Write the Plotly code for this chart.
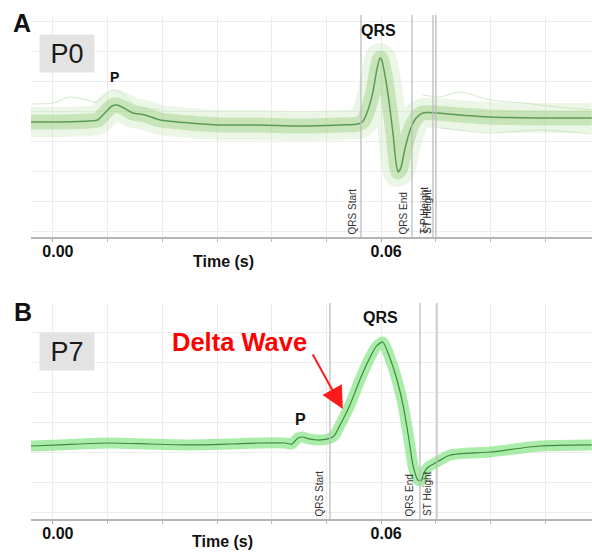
import plotly.graph_objects as go

# ---------------- data (time in s, amplitude in mV) ----------------
t_a = [-0.0040, 0.0013, 0.0068, 0.0082, 0.0095, 0.0108, 0.0117, 0.0130, 0.0146,
       0.0168, 0.0196, 0.0250, 0.0305, 0.0378, 0.0452, 0.0525, 0.0558, 0.0567,
       0.0576, 0.0585, 0.0592, 0.0598, 0.0601, 0.0607, 0.0614, 0.0622, 0.0627,
       0.0631, 0.0636, 0.0643, 0.0653, 0.0664, 0.0676, 0.0700, 0.0744, 0.0799,
       0.0890, 0.0985]
v_a = [-0.008, -0.008, 0.000, 0.008, 0.067, 0.125, 0.133, 0.108, 0.067,
       0.050, 0.008, -0.017, -0.033, -0.033, -0.042, -0.033, -0.025, 0.000,
       0.092, 0.242, 0.425, 0.525, 0.508, 0.383, 0.175, -0.117, -0.342,
       -0.425, -0.392, -0.242, -0.075, 0.025, 0.067, 0.067, 0.050, 0.033,
       0.025, 0.025]

# a few faint individual beats of panel A that stray from the bundle
t_a_beat1 = [-0.0040, 0.0000, 0.0031, 0.0062, 0.0080, 0.0108, 0.0122, 0.0150, 0.0196]
v_a_beat1 = [0.142, 0.150, 0.200, 0.175, 0.158, 0.258, 0.242, 0.133, 0.092]
t_a_beat2 = [0.0676, 0.0708, 0.0744, 0.0799, 0.0859, 0.0921, 0.0985]
v_a_beat2 = [0.217, 0.200, 0.242, 0.175, 0.150, 0.117, 0.092]
t_a_beat3 = [0.0708, 0.0799, 0.0890, 0.0985]
v_a_beat3 = [-0.058, -0.100, -0.075, -0.108]

t_b = [-0.0040, 0.0013, 0.0049, 0.0104, 0.0177, 0.0250, 0.0324, 0.0378, 0.0424,
       0.0437, 0.0448, 0.0457, 0.0468, 0.0484, 0.0503, 0.0514, 0.0525, 0.0543,
       0.0561, 0.0580, 0.0592, 0.0603, 0.0616, 0.0629, 0.0640, 0.0651, 0.0658,
       0.0667, 0.0673, 0.0678, 0.0686, 0.0702, 0.0726, 0.0799, 0.0890, 0.0985]
v_b = [-0.017, -0.008, 0.000, 0.008, 0.000, -0.008, 0.000, 0.008, 0.008,
       0.000, 0.050, 0.058, 0.042, 0.033, 0.042, 0.067, 0.158, 0.325,
       0.533, 0.725, 0.817, 0.850, 0.717, 0.533, 0.325, 0.033, -0.175,
       -0.300, -0.308, -0.242, -0.192, -0.150, -0.092, -0.067, -0.017, -0.008]

markers_a = [0.05631, 0.06563, 0.06947, 0.07002]
marker_labels_a = ["QRS Start", "QRS End", "T-P Height", "ST Height"]
markers_b = [0.05064, 0.06709, 0.07020]
marker_labels_b = ["QRS Start", "QRS End", "ST Height"]

tick_vals = [0.0, 0.06]
tick_text = ["0.00", "0.06"]

FONT = "Liberation Sans, Arial, sans-serif"
NARROW = "Liberation Sans Narrow, Arial Narrow, Liberation Sans, Arial, sans-serif"

fig = go.Figure()

# Panel A: faint individual beats, overlaid-beat halo + average
for tx, vy in [(t_a_beat1, v_a_beat1), (t_a_beat2, v_a_beat2), (t_a_beat3, v_a_beat3)]:
    fig.add_trace(go.Scatter(x=tx, y=vy, mode="lines", xaxis="x", yaxis="y",
                             line=dict(color="rgba(150,200,130,0.40)", width=1, shape="spline", smoothing=0.8),
                             hoverinfo="skip", showlegend=False))
fig.add_trace(go.Scatter(x=t_a, y=v_a, mode="lines", xaxis="x", yaxis="y",
                         line=dict(color="rgba(185,222,170,0.28)", width=30, shape="spline", smoothing=0.6),
                         hoverinfo="skip", showlegend=False))
fig.add_trace(go.Scatter(x=t_a, y=v_a, mode="lines", xaxis="x", yaxis="y",
                         line=dict(color="rgba(150,205,125,0.42)", width=15, shape="spline", smoothing=0.6),
                         hoverinfo="skip", showlegend=False))
fig.add_trace(go.Scatter(x=t_a, y=v_a, mode="lines", xaxis="x", yaxis="y",
                         line=dict(color="#5c9b55", width=1.5, shape="spline", smoothing=0.6),
                         showlegend=False))

# Panel B
fig.add_trace(go.Scatter(x=t_b, y=v_b, mode="lines", xaxis="x2", yaxis="y2",
                         line=dict(color="rgba(125,228,125,0.65)", width=11, shape="spline", smoothing=0.6),
                         hoverinfo="skip", showlegend=False))
fig.add_trace(go.Scatter(x=t_b, y=v_b, mode="lines", xaxis="x2", yaxis="y2",
                         line=dict(color="#3f8a3f", width=1.2, shape="spline", smoothing=0.6),
                         showlegend=False))

xr = [-0.0040, 0.09854]
xcommon = dict(range=xr, tickvals=tick_vals, ticktext=tick_text, showgrid=True,
               gridcolor="#ececec", gridwidth=1, zeroline=False, showline=True,
               linecolor="#b5b5b5", linewidth=2, ticks="outside", ticklen=3,
               tickcolor="#aaaaaa", ticklabelshift=5, ticklabelstandoff=-4,
               tickfont=dict(family=FONT, size=16, color="#111111", weight="bold"),
               minor=dict(dtick=0.01, tick0=0, showgrid=True, gridcolor="#ececec",
                          ticks="outside", ticklen=3, tickcolor="#bbbbbb"),
               fixedrange=True)
ycommon = dict(showticklabels=False, zeroline=False, showgrid=True, gridcolor="#eeeeee",
               dtick=0.25, ticks="", showline=False, fixedrange=True)

fig.update_layout(
    width=592, height=554, margin=dict(l=0, r=0, t=0, b=0),
    paper_bgcolor="white", plot_bgcolor="white",
    xaxis=dict(domain=[0.05236, 1.0], anchor="y", **xcommon),
    yaxis=dict(domain=[0.5722, 0.9729], anchor="x", range=[-0.967, 0.883], tick0=0.075, **ycommon),
    xaxis2=dict(domain=[0.05236, 1.0], anchor="y2", **xcommon),
    yaxis2=dict(domain=[0.0632, 0.4531], anchor="x2", range=[-0.625, 1.175], tick0=0.175, **ycommon),
)

shapes = []
annotations = []
for xv in markers_a:
    shapes.append(dict(type="line", xref="x", yref="y domain", x0=xv, x1=xv, y0=0, y1=1,
                       line=dict(color="#bdbdbd", width=1.3)))
for xv, lab in zip(markers_a, marker_labels_a):
    annotations.append(dict(xref="x", yref="y domain", x=xv, y=0, text=lab, showarrow=False,
                            textangle=-90, xanchor="right", yanchor="bottom", xshift=-1, yshift=1,
                            font=dict(family=NARROW, size=10, color="#333333")))
for xv in markers_b:
    shapes.append(dict(type="line", xref="x2", yref="y2 domain", x0=xv, x1=xv, y0=0, y1=1,
                       line=dict(color="#bdbdbd", width=1.3)))
for xv, lab in zip(markers_b, marker_labels_b):
    annotations.append(dict(xref="x2", yref="y2 domain", x=xv, y=0, text=lab, showarrow=False,
                            textangle=-90, xanchor="right", yanchor="bottom", xshift=-2, yshift=1,
                            font=dict(family=NARROW, size=10, color="#333333")))

def bold(txt, x, y, size, color="#111111", xref="paper", yref="paper"):
    return dict(xref=xref, yref=yref, x=x, y=y, text="<b>%s</b>" % txt, showarrow=False,
                xanchor="center", yanchor="middle", font=dict(family=FONT, size=size, color=color))

annotations += [
    bold("A", 0.0372, 0.9585, 25),
    bold("B", 0.0389, 0.4368, 25),
    bold("QRS", 0.0596, 0.758, 16, xref="x", yref="y"),
    bold("P", 0.01133, 0.367, 14, xref="x", yref="y"),
    bold("QRS", 0.0598, 1.05, 16, xref="x2", yref="y2"),
    bold("P", 0.04534, 0.208, 16, xref="x2", yref="y2"),
    bold("Time (s)", 0.3767, 0.5271, 16),
    bold("Time (s)", 0.375, 0.0217, 16),
    bold("Delta Wave", 0.4054, 0.3827, 25.5, color="#ff0000"),
    dict(xref="paper", yref="paper", x=0.1132, y=0.9034, text="P0", showarrow=False,
         width=52, height=35, bgcolor="#e3e3e3", xanchor="center", yanchor="middle",
         font=dict(family=FONT, size=27, color="#1a1a1a")),
    dict(xref="paper", yref="paper", x=0.1132, y=0.3655, text="P7", showarrow=False,
         width=52, height=35, bgcolor="#e3e3e3", xanchor="center", yanchor="middle",
         font=dict(family=FONT, size=27, color="#1a1a1a")),
    dict(xref="x2", yref="y2", x=0.0530, y=0.292, axref="x2", ayref="y2",
         ax=0.04735, ay=0.758, text="", showarrow=True, arrowhead=2, arrowsize=2.2,
         arrowwidth=2, arrowcolor="#ff1a1a"),
]

fig.update_layout(shapes=shapes, annotations=annotations)
fig.write_html("out.html", config={"displayModeBar": False},
               post_script="document.body.style.margin='0';document.body.style.padding='0';"
                           "document.body.style.overflow='hidden';"
                           "document.documentElement.style.overflow='hidden';")
